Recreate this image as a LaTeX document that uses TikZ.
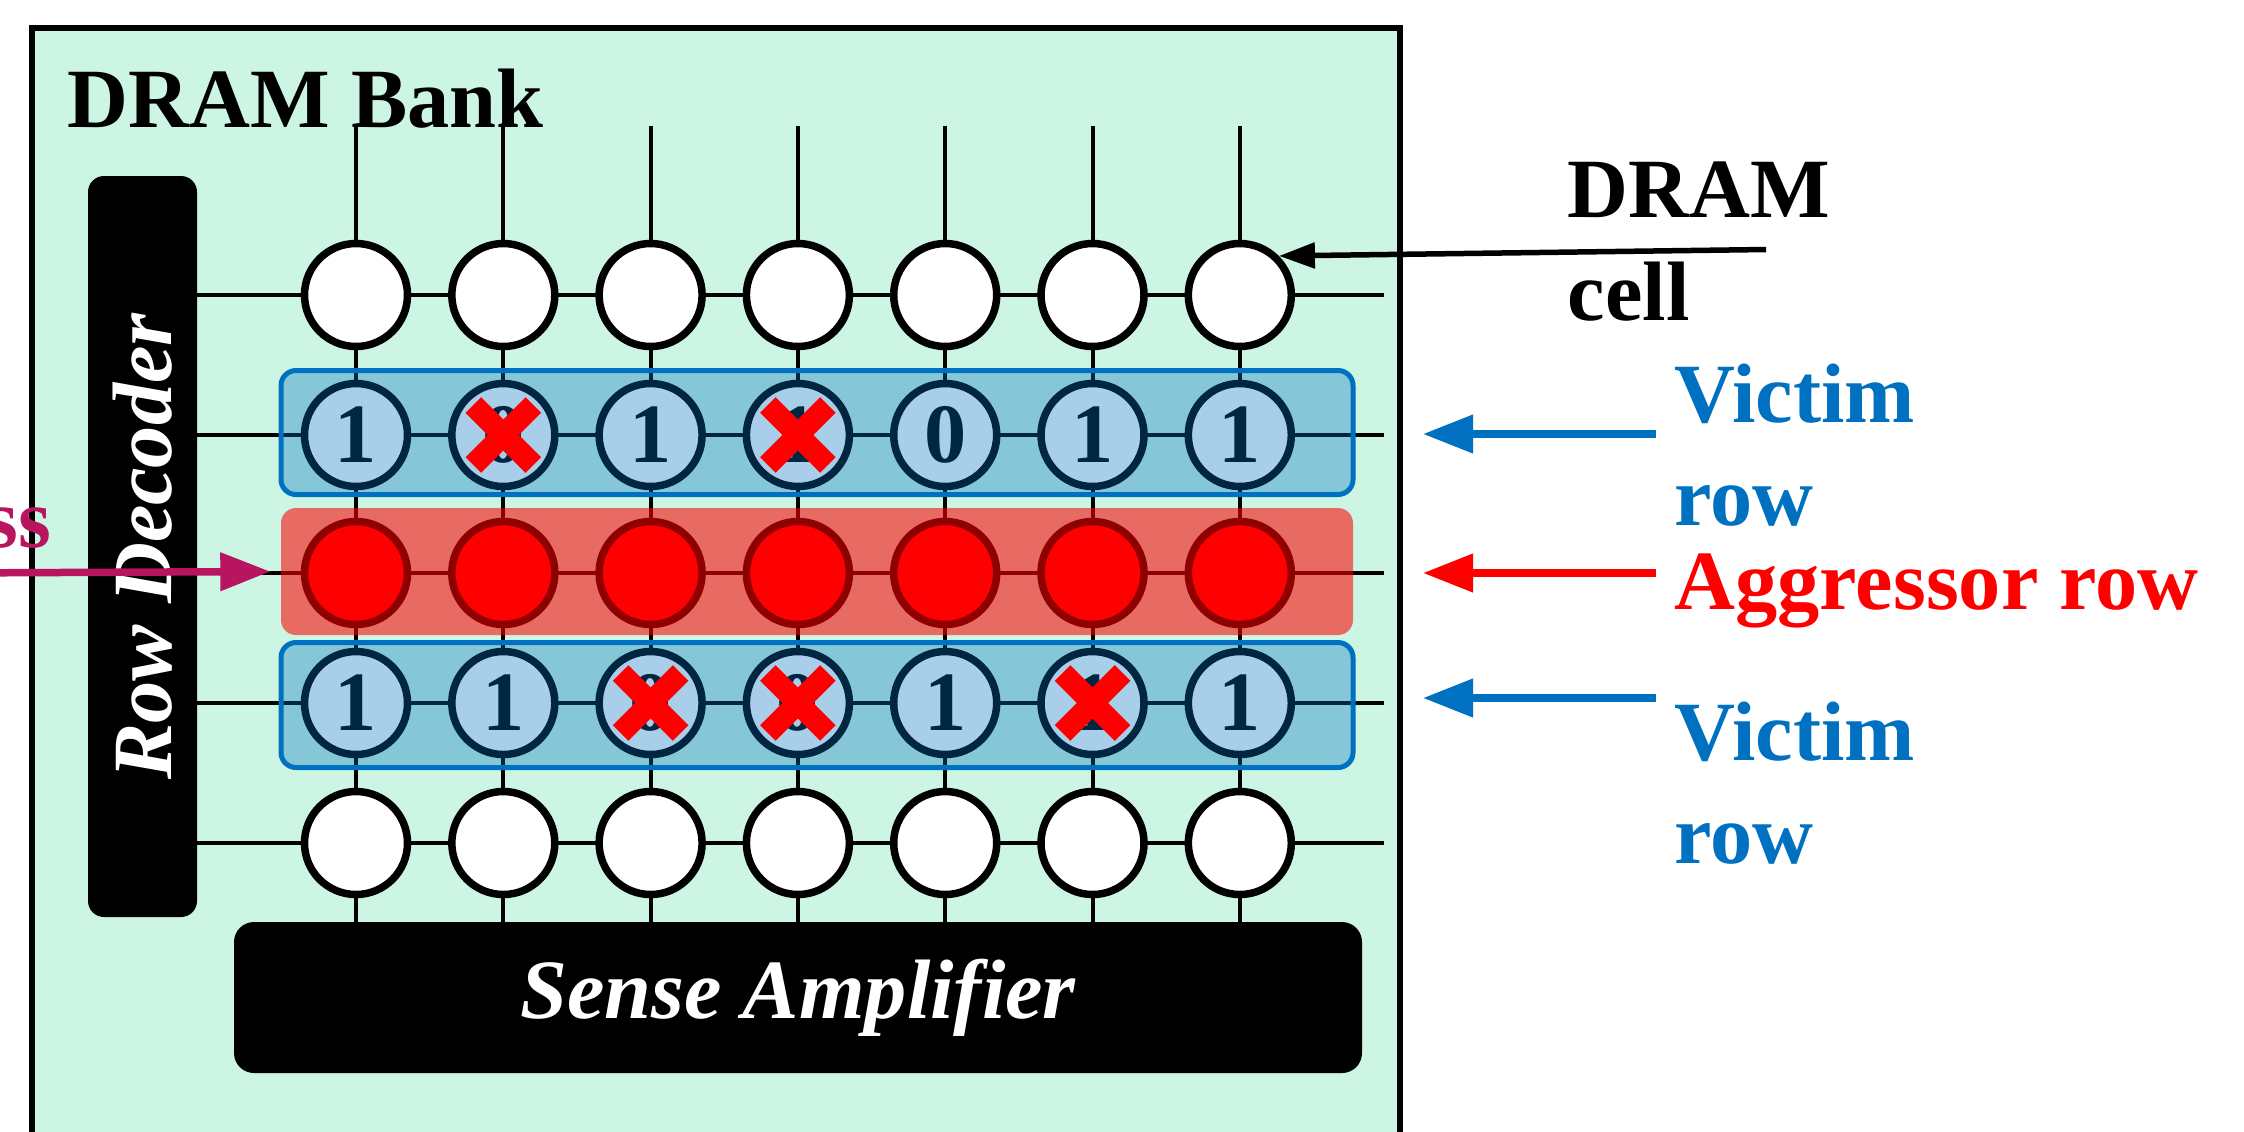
\documentclass[tikz,border=0pt]{standalone}
\usepackage{fontspec}
\setmainfont{Liberation Serif}
\usetikzlibrary{arrows.meta}
\definecolor{bankmint}{RGB}{204,245,227}
\definecolor{victimblue}{RGB}{0,112,192}
\definecolor{addrpink}{RGB}{185,20,95}
\newcommand{\bankfont}{\fontsize{24}{29.2}\selectfont\bfseries}

\begin{document}
\begin{tikzpicture}[
    cell/.style={circle, draw, line width=0.075cm, minimum size=1.03cm, inner sep=0pt, fill=white, font=\bankfont},
    wire/.style={line width=0.04cm},
    block/.style={fill=black, text=white, rounded corners=0.16cm, inner sep=0pt, font=\bankfont\itshape},
    highlight/.style={rounded corners=0.15cm, inner sep=0pt, minimum width=10.72cm},
    flip/.style={red, line width=0.22cm},
    label/.style={font=\bankfont, align=left, inner sep=0pt},
    pointer/.style={-{Triangle[length=0.5cm, width=0.37cm]}, line width=0.075cm}
  ]
    \useasboundingbox (0,0) rectangle (22.44,-11.31);

    % Bank
    \draw[line width=0.06cm, fill=bankmint] (0.32,-0.28) rectangle (14.0,-11.8);
    \node[label, anchor=base west] (bank) at (0.67,-1.27) {DRAM Bank};

    % Decoder and sense amplifier
    \node[block, rotate=90, minimum width=7.41cm, minimum height=1.09cm] (rowdec) at (1.425,-5.465) {Row Decoder};
    \node[block, rounded corners=0.2cm, minimum width=11.28cm, minimum height=1.51cm] (senseamp) at (7.98,-9.975) {Sense Amplifier};

    % Wordlines and bitlines
    \foreach \y in {-2.95,-4.35,-5.73,-7.03,-8.43}
      \draw[wire] (1.97,\y) -- (13.84,\y);
    \foreach \c in {1,...,7}
      \draw[wire] ({2.087+1.473*\c},-1.26) -- ({2.087+1.473*\c},-9.22);

    % Cells
    \foreach \r/\y in {1/-2.95, 5/-8.43}
      \foreach \c in {1,...,7}
        \node[cell] (c-\r-\c) at ({2.087+1.473*\c},\y) {};
    \foreach \d [count=\c] in {1,0,1,1,0,1,1}
      \node[cell] (c-2-\c) at ({2.087+1.473*\c},-4.35) {\d};
    \foreach \c in {1,...,7}
      \node[cell, fill=red] (c-3-\c) at ({2.087+1.473*\c},-5.73) {};
    \foreach \d [count=\c] in {1,1,0,0,1,1,1}
      \node[cell] (c-4-\c) at ({2.087+1.473*\c},-7.03) {\d};

    % Row highlights
    \node[highlight, draw=victimblue, line width=0.05cm, fill=victimblue, fill opacity=0.34, minimum height=1.24cm] (victimA) at (8.17,-4.325) {};
    \node[highlight, fill=red, fill opacity=0.56, minimum height=1.27cm] (aggr) at (8.17,-5.715) {};
    \node[highlight, draw=victimblue, line width=0.05cm, fill=victimblue, fill opacity=0.34, minimum height=1.25cm] (victimB) at (8.17,-7.05) {};

    % Flipped bits
    \foreach \r/\c in {2/2, 2/4, 4/3, 4/4, 4/6}
      \draw[flip] ([shift={(-0.3,0.3)}]c-\r-\c.center) -- ([shift={(0.3,-0.3)}]c-\r-\c.center)
                  ([shift={(-0.3,-0.3)}]c-\r-\c.center) -- ([shift={(0.3,0.3)}]c-\r-\c.center);

    % Labels
    \node[label, anchor=base west] (celllab) at (15.67,-3.20) {DRAM\\cell};
    \node[label, anchor=base west, text=victimblue] (victimlabA) at (16.74,-5.25) {Victim\\row};
    \node[label, anchor=base west, text=red] (aggrlab) at (16.74,-6.09) {Aggressor row};
    \node[label, anchor=base west, text=victimblue] (victimlabB) at (16.74,-8.63) {Victim\\row};
    \node[label, anchor=base east, text=addrpink] (addrlab) at (0.52,-5.47) {ss};

    % Arrows
    \coordinate (celltail) at (17.66,-2.495);
    \coordinate (victimtailA) at (16.56,-4.34);
    \coordinate (victimtipA) at (14.23,-4.34);
    \coordinate (aggrtail) at (16.56,-5.73);
    \coordinate (aggrtip) at (14.23,-5.73);
    \coordinate (victimtailB) at (16.56,-6.98);
    \coordinate (victimtipB) at (14.23,-6.98);
    \coordinate (addrtail) at (-0.5,-5.73);
    \draw[-{Triangle[length=0.36cm, width=0.25cm]}, line width=0.055cm] (celltail) -- (c-1-7.north east);
    \draw[pointer, victimblue] (victimtailA) -- (victimtipA);
    \draw[pointer, red] (aggrtail) -- (aggrtip);
    \draw[pointer, victimblue] (victimtailB) -- (victimtipB);
    \draw[pointer, addrpink] (addrtail) -- ([xshift=-0.1cm]aggr.west);
\end{tikzpicture}
\end{document}
